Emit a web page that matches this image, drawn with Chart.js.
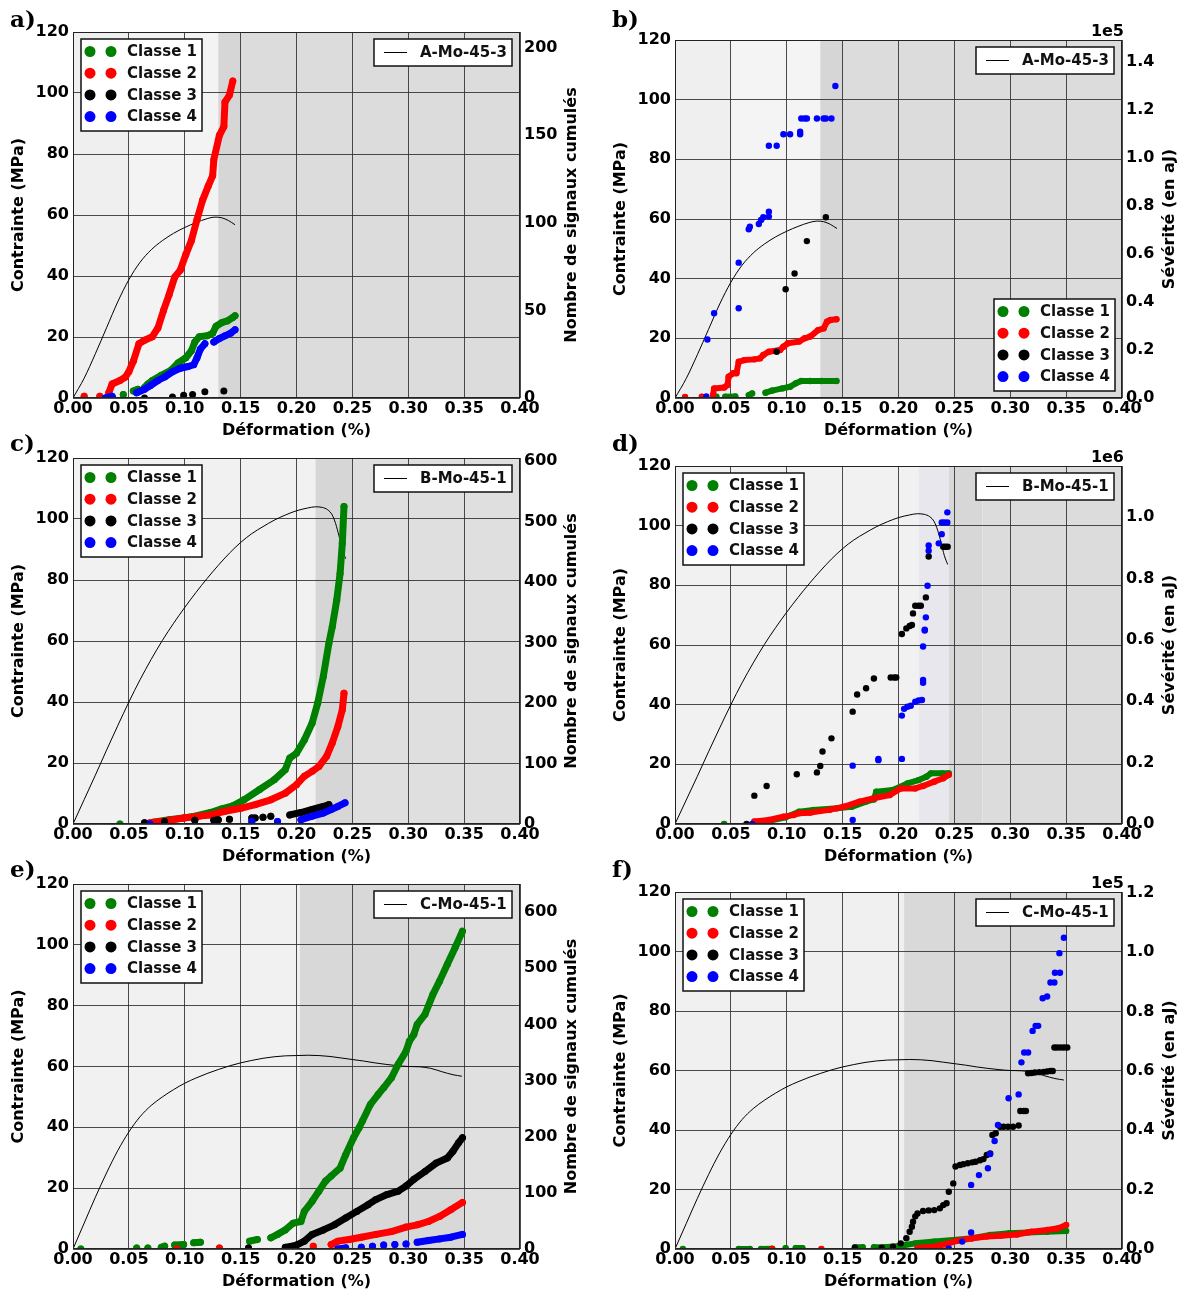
<!DOCTYPE html>
<html>
<head>
<meta charset="utf-8">
<script src="https://cdn.jsdelivr.net/npm/chart.js@4.4.1/dist/chart.umd.min.js"></script>
<style>
  html, body { margin: 0; padding: 0; background: #fff; width: 1189px; height: 1289px; overflow: hidden; position: relative; }
  canvas { position: absolute; }
</style>
</head>
<body>
<canvas id="pa"></canvas>
<canvas id="pb"></canvas>
<canvas id="pc"></canvas>
<canvas id="pd"></canvas>
<canvas id="pe"></canvas>
<canvas id="pf"></canvas>
<script>
// ---- tick labels ----
const strainTicks = [0, 0.05, 0.1, 0.15, 0.2, 0.25, 0.3, 0.35, 0.4];
const stressTicks = [0, 20, 40, 60, 80, 100, 120];
const countTicksA = [0, 50, 100, 150, 200];
const sevTicksB = [0, 20000, 40000, 60000, 80000, 100000, 120000, 140000];
const countTicksC = [0, 100, 200, 300, 400, 500, 600];
const sevTicksD = [0, 200000, 400000, 600000, 800000, 1000000];
const countTicksE = [0, 100, 200, 300, 400, 500, 600];
const sevTicksF = [0, 20000, 40000, 60000, 80000, 100000, 120000];

const classNames = ["Classe 1", "Classe 2", "Classe 3", "Classe 4"];

// ---- stress-strain curves [strain %, MPa] ----
const curveA = [[0,0],[0.01,6.5],[0.02,14.5],[0.03,23],[0.04,31.5],[0.05,38.8],[0.06,44.5],[0.07,48.6],[0.08,51.6],[0.09,54],[0.10,55.9],[0.11,57.5],[0.12,58.8],[0.127,59.3],[0.133,59.1],[0.139,58.2],[0.145,56.8]];
const curveB = [[0,0],[0.01,8],[0.02,16],[0.03,24.2],[0.04,32.2],[0.05,40],[0.06,47.3],[0.07,54],[0.08,60.2],[0.09,65.8],[0.10,71],[0.11,75.9],[0.12,80.5],[0.13,84.8],[0.14,88.8],[0.15,92.3],[0.16,95.2],[0.17,97.5],[0.18,99.6],[0.19,101.3],[0.20,102.7],[0.21,103.6],[0.217,104],[0.223,103.8],[0.228,103],[0.232,101.3],[0.235,98.5],[0.238,94.5],[0.241,90],[0.244,87]];
const curveC = [[0,0],[0.01,8.5],[0.02,17],[0.03,25],[0.04,32.3],[0.05,38.5],[0.06,43.5],[0.07,47.2],[0.08,50],[0.09,52.4],[0.10,54.5],[0.11,56.2],[0.12,57.7],[0.13,59],[0.14,60.2],[0.15,61.2],[0.16,62],[0.17,62.7],[0.18,63.2],[0.19,63.5],[0.20,63.6],[0.21,63.7],[0.22,63.6],[0.23,63.3],[0.24,62.8],[0.25,62.3],[0.26,61.8],[0.27,61.2],[0.28,60.7],[0.29,60.3],[0.30,60],[0.31,59.9],[0.32,59.4],[0.33,58.3],[0.34,57.3],[0.348,56.8]];

// ---- a) cumulated signals, A-Mo-45-3 ----
const a_c1 = [[0.035,0.5],null,[0.045,2],null,[0.054,4],[0.058,5],null,[0.064,6],[0.067,8],[0.071,10],[0.079,13],[0.088,16],[0.094,20],[0.101,23],[0.106,27],[0.109,32],[0.113,35],[0.120,35.5],[0.125,37],[0.128,41],[0.133,43],[0.138,44],[0.143,46],[0.145,47]];
const a_c2 = [[0.010,1],null,[0.024,1],null,[0.032,3],[0.035,8],[0.042,10],[0.047,12],[0.050,15],[0.054,21],[0.059,31],[0.064,33],[0.071,35],[0.076,40],[0.081,50],[0.086,59],[0.091,69],[0.096,73],[0.101,82],[0.106,90],[0.111,102],[0.116,113],[0.121,121],[0.125,127],[0.126,136],[0.131,150],[0.135,155],[0.136,169],[0.140,173],[0.143,181]];
const a_c3 = [[0.064,0],[0.089,0.5],[0.099,1.5],[0.107,2],[0.118,3.5],[0.135,4]];
const a_c4 = [[0.029,0],[0.035,1],null,[0.057,3],[0.064,5],[0.069,7],[0.076,10],[0.082,12],[0.089,15],[0.096,17],[0.103,18],[0.108,19],[0.111,23],[0.114,28],[0.118,31],null,[0.126,32],[0.131,34],[0.136,35.5],[0.141,37],[0.145,39]];

// ---- b) severity (aJ), A-Mo-45-3 ----
const b_c1 = [[0.037,500],null,[0.045,500],[0.054,600],null,[0.066,1200],[0.069,1900],null,[0.081,2200],[0.087,3100],[0.096,4000],[0.103,4700],[0.108,6100],[0.113,7100],[0.121,7100],[0.131,7100],[0.1445,7100]];
const b_c2 = [[0.009,400],null,[0.024,500],null,[0.034,1200],[0.035,4000],[0.044,4400],[0.047,5400],[0.048,8900],[0.052,10300],[0.055,10300],[0.057,15100],[0.062,15800],[0.071,16100],[0.076,16500],[0.079,17900],[0.084,19300],[0.094,20000],[0.097,21400],[0.101,22800],[0.111,23500],[0.116,24900],[0.121,25600],[0.128,28300],[0.133,29000],[0.136,31800],[0.139,32500],[0.1445,32800]];
const b_c3 = [[0.091,19300],[0.099,45300],[0.107,51900],[0.118,65400],[0.135,75300]];
const b_c4 = [[0.028,600],[0.029,24400],[0.035,35300],[0.057,37400],[0.057,56400],[0.066,70300],[0.067,71400],[0.075,72500],[0.077,74200],[0.079,75300],[0.084,75600],[0.084,77600],[0.084,105100],[0.091,105100],[0.097,109900],[0.103,109900],[0.112,109900],[0.112,111000],[0.113,116500],[0.116,116500],[0.118,116500],[0.127,116500],[0.133,116500],[0.135,116500],[0.140,116500],[0.1435,130000]];

// ---- c) cumulated signals, B-Mo-45-1 ----
const c_c1 = [[0.042,0],null,[0.072,3],[0.086,7],[0.099,10],[0.109,13],[0.123,19],[0.133,25],[0.143,30],[0.153,40],[0.167,57],[0.180,73],[0.190,90],[0.194,109],[0.200,117],[0.207,139],[0.214,167],[0.219,200],[0.224,244],[0.229,299],[0.232,326],[0.236,370],[0.239,414],[0.241,464],[0.2425,525]];
const c_c2 = [[0.069,2],[0.086,6],[0.099,10],[0.113,13],[0.123,15],[0.136,21],[0.150,26],[0.163,32],[0.177,40],[0.190,51],[0.200,65],[0.207,79],[0.214,87],[0.220,95],[0.227,112],[0.232,134],[0.237,161],[0.241,189],[0.2425,216]];
const c_c3 = [[0.064,2],null,[0.082,4],null,[0.109,6],null,[0.126,6],[0.130,7],null,[0.140,8],null,[0.160,10],[0.163,10],null,[0.170,11],null,[0.177,13],null,[0.194,15],[0.204,19],[0.214,24],[0.224,29],[0.229,32]];
const c_c4 = [[0.069,0],null,[0.160,4],null,[0.183,4],null,[0.204,7],[0.214,13],[0.224,18],[0.231,24],[0.237,29],[0.2434,35]];

// ---- d) severity (aJ), B-Mo-45-1 ----
const d_c1 = [[0.044,0],null,[0.074,2000],[0.099,22000],[0.111,40000],[0.124,46000],[0.145,51000],[0.158,56000],[0.171,73000],[0.178,80000],[0.180,105000],[0.195,111000],[0.208,132000],[0.218,143000],[0.225,154000],[0.229,165000],[0.239,165000],[0.245,165000]];
const d_c2 = [[0.071,8000],[0.084,13000],[0.097,24000],[0.106,29000],[0.111,35000],[0.121,37000],[0.138,46000],[0.151,56000],[0.165,73000],[0.178,84000],[0.192,94000],[0.202,116000],[0.215,116000],[0.222,124000],[0.232,138000],[0.240,149000],[0.245,160000]];
const d_c3 = [[0.064,0],[0.071,92300],[0.082,124000],[0.109,162000],[0.127,168000],[0.130,189000],[0.132,236000],[0.140,279000],[0.159,366000],[0.163,422000],[0.171,442000],[0.178,474000],[0.193,477000],[0.196,477000],[0.198,477000],[0.203,619000],[0.207,637000],[0.210,645000],[0.212,648000],[0.213,686000],[0.215,711000],[0.218,711000],[0.220,711000],[0.2245,738000],[0.227,871000],[0.240,903000],[0.242,903000],[0.244,903000]];
const d_c4 = [[0.069,0],[0.159,13000],[0.159,190000],[0.182,208000],[0.182,212000],[0.203,212000],[0.203,353000],[0.205,375000],[0.208,382000],[0.211,385000],[0.215,398000],[0.218,402000],[0.221,404000],[0.222,460000],[0.222,469000],[0.222,578000],[0.2235,630000],[0.2235,633000],[0.2245,673000],[0.226,776000],[0.227,890000],[0.227,907000],[0.236,914000],[0.2387,944000],[0.2387,982000],[0.241,982000],[0.2437,982000],[0.2437,1015000]];

// ---- e) cumulated signals, C-Mo-45-1 ----
const e_c1 = [[0.007,0],null,[0.057,2],null,[0.067,2],null,[0.079,3],[0.082,5],null,[0.091,7],[0.099,8],null,[0.108,11],[0.114,12],null,[0.158,14],[0.165,17],null,[0.177,20],[0.183,26],[0.190,34],[0.197,46],[0.204,49],[0.207,67],[0.214,85],[0.220,103],[0.226,121],[0.231,130],[0.239,144],[0.244,168],[0.251,198],[0.256,216],[0.259,228],[0.266,257],[0.273,275],[0.278,287],[0.285,305],[0.291,329],[0.298,352],[0.301,370],[0.305,382],[0.308,400],[0.315,418],[0.322,453],[0.328,477],[0.335,507],[0.342,537],[0.3485,566]];
const e_c2 = [[0.093,0],null,[0.131,2],null,[0.215,5],null,[0.231,8],[0.237,14],[0.247,17],[0.258,21],[0.271,26],[0.285,31],[0.298,39],[0.308,43],[0.318,49],[0.328,58],[0.338,70],[0.3485,83]];
const e_c3 = [[0.157,2],null,[0.190,3],[0.200,7],[0.207,14],[0.214,26],[0.224,34],[0.234,43],[0.244,55],[0.254,67],[0.264,79],[0.271,88],[0.281,97],[0.291,103],[0.298,112],[0.305,124],[0.315,138],[0.325,153],[0.335,162],[0.340,174],[0.345,189],[0.3485,198]];
const e_c4 = [[0.237,0],[0.244,2],null,[0.258,3],null,[0.268,5],null,[0.278,7],null,[0.288,8],null,[0.298,9],null,[0.308,12],[0.318,15],[0.328,18],[0.338,21],[0.3485,26]];

// ---- f) severity (aJ), C-Mo-45-1 ----
const f_c1 = [[0.007,0],null,[0.057,0],[0.067,0],null,[0.077,0],[0.087,100],null,[0.099,300],null,[0.108,300],[0.114,300],null,[0.161,600],[0.168,600],null,[0.178,600],[0.188,600],[0.202,1100],[0.215,1900],[0.232,2500],[0.249,3000],[0.266,3600],[0.282,4700],[0.299,5300],[0.316,5600],[0.333,5800],[0.350,6100]];
const f_c2 = [[0.087,0],null,[0.131,0],null,[0.217,300],[0.232,800],[0.242,1600],[0.252,2700],[0.266,3600],[0.279,4200],[0.292,4500],[0.306,4900],[0.319,5800],[0.333,6400],[0.343,7000],[0.350,8100]];
const f_c3 = [[0.161,450],[0.185,450],[0.195,800],[0.202,1900],[0.207,3600],[0.210,5800],[0.212,7500],[0.213,9200],[0.215,11000],[0.217,12000],[0.222,12800],[0.227,13000],[0.232,13100],[0.237,13700],[0.240,14800],[0.243,15400],[0.245,19300],[0.249,22100],[0.251,27800],[0.255,28300],[0.258,28600],[0.262,28900],[0.266,29200],[0.269,29400],[0.273,29900],[0.276,30300],[0.279,31700],[0.282,32200],[0.284,38400],[0.287,39000],[0.291,41200],[0.294,41200],[0.298,41200],[0.3025,41200],[0.3075,41600],[0.309,46500],[0.312,46500],[0.314,46500],[0.316,59200],[0.319,59300],[0.322,59500],[0.326,59600],[0.330,59700],[0.333,59800],[0.336,60000],[0.338,60000],[0.3395,67900],[0.342,67900],[0.345,67900],[0.348,67900],[0.351,67900]];
const f_c4 = [[0.245,200],[0.257,2500],[0.265,5600],[0.265,21600],[0.272,24900],[0.280,27200],[0.282,32000],[0.286,36400],[0.289,41800],[0.2985,50800],[0.3075,52100],[0.310,62900],[0.3125,66200],[0.316,66200],[0.320,73500],[0.3227,75200],[0.325,75200],[0.329,84500],[0.333,85100],[0.336,89800],[0.3395,89800],[0.340,93100],[0.3445,93100],[0.344,99700],[0.348,104900]];

// ---- drawing ----
Chart.defaults.font.family = "'DejaVu Sans', sans-serif";
Chart.defaults.font.size = 16;
Chart.defaults.font.weight = "bold";
Chart.defaults.color = "#000";

const classColors = ["#008000", "#ff0000", "#000000", "#0000ff"];
const gridColor = "rgba(45,45,45,0.85)";
const fontMain = "bold 16px 'DejaVu Sans'";
const fontLegend = "bold 15px 'DejaVu Sans'";

function pts(arr) {
  let last = 0;
  return arr.map((p) => {
    if (p) { last = p[0]; return { x: p[0], y: p[1] }; }
    return { x: last, y: null };
  });
}

function rotText(ctx, text, x, y) {
  ctx.save();
  ctx.translate(x, y);
  ctx.rotate(-Math.PI / 2);
  ctx.fillText(text, 0, 0);
  ctx.restore();
}

const panelDecor = {
  id: "panelDecor",
  beforeDraw(chart, args, o) {
    const { ctx, chartArea: a } = chart;
    const x = chart.scales.x;
    ctx.save();
    o.bands.forEach((b) => {
      const x0 = x.getPixelForValue(b[0]);
      const x1 = x.getPixelForValue(b[1]);
      ctx.fillStyle = b[2];
      ctx.fillRect(x0, a.top, x1 - x0, a.bottom - a.top);
    });
    ctx.restore();
  },
  afterDraw(chart, args, o) {
    const { ctx, chartArea: a } = chart;
    ctx.save();
    // frame
    ctx.strokeStyle = "#222";
    ctx.lineWidth = 1;
    ctx.strokeRect(a.left + 0.5, a.top + 0.5, a.right - a.left - 1, a.bottom - a.top - 1);

    // panel letter
    ctx.fillStyle = "#000";
    ctx.font = "bold 23px 'DejaVu Serif'";
    ctx.textAlign = "left";
    ctx.textBaseline = "alphabetic";
    ctx.fillText(o.letter, a.left - 63, a.top + o.letterDy);

    // axis titles
    ctx.font = fontMain;
    ctx.textAlign = "center";
    ctx.textBaseline = "middle";
    ctx.fillText("Déformation (%)", (a.left + a.right) / 2, a.bottom + 33);
    const cy = (a.top + a.bottom) / 2;
    rotText(ctx, "Contrainte (MPa)", a.left - 54, cy);
    rotText(ctx, o.rightTitle, a.right + o.rightDx, cy);
    if (o.exp) {
      ctx.textAlign = "right";
      ctx.fillText(o.exp, a.right + 2, a.top - 8);
    }

    // class legend
    const bx = o.classLegend === "br" ? a.right - 128 : a.left + 8;
    const by = o.classLegend === "br" ? a.bottom - 99 : a.top + 7;
    ctx.fillStyle = "#fff";
    ctx.fillRect(bx, by, 121, 92);
    ctx.strokeStyle = "#111";
    ctx.lineWidth = 1.5;
    ctx.strokeRect(bx, by, 121, 92);
    ctx.font = fontLegend;
    ctx.textAlign = "left";
    classNames.forEach((n, i) => {
      const ry = by + 12.5 + 21.7 * i;
      ctx.fillStyle = classColors[i];
      [9, 30].forEach((dx) => {
        ctx.beginPath();
        ctx.arc(bx + dx, ry, 5.5, 0, Math.PI * 2);
        ctx.fill();
      });
      ctx.fillStyle = "#111";
      ctx.fillText(n, bx + 46, ry + 1);
    });

    // specimen legend
    const sx = a.right - 146, sy = a.top + 7;
    ctx.fillStyle = "#fff";
    ctx.fillRect(sx, sy, 138, 27);
    ctx.strokeRect(sx, sy, 138, 27);
    ctx.strokeStyle = "#000";
    ctx.lineWidth = 1;
    ctx.beginPath();
    ctx.moveTo(sx + 10, sy + 13.5);
    ctx.lineTo(sx + 33, sy + 13.5);
    ctx.stroke();
    ctx.fillStyle = "#111";
    ctx.fillText(o.specimen, sx + 46, sy + 14);
    ctx.restore();
  },
};

function classSet(arr, i, st) {
  return {
    data: pts(arr),
    yAxisID: "y2",
    order: 4 - i,
    showLine: st.line,
    borderColor: classColors[i],
    backgroundColor: classColors[i],
    borderWidth: st.line ? st.w : 0,
    pointRadius: st.r,
    pointBorderWidth: 0,
    pointHoverRadius: st.r,
    borderCapStyle: "round",
    borderJoinStyle: "round",
  };
}

function makeChart(id, geo, cfg) {
  const cv = document.getElementById(id);
  const W = 73 + geo.w + 67, H = 44 + geo.h + 50;
  cv.width = W;
  cv.height = H;
  cv.style.width = W + "px";
  cv.style.height = H + "px";
  cv.style.left = geo.l - 73 + "px";
  cv.style.top = geo.t - 44 + "px";

  const datasets = [
    {
      data: pts(cfg.curve),
      yAxisID: "y",
      order: 5,
      showLine: true,
      cubicInterpolationMode: "monotone",
      borderColor: "#000",
      borderWidth: 1,
      pointRadius: 0,
      pointHoverRadius: 0,
    },
  ];
  cfg.classes.forEach((arr, i) => datasets.push(classSet(arr, i, cfg.styles[i])));

  return new Chart(cv, {
    type: "scatter",
    data: { datasets },
    plugins: [panelDecor],
    options: {
      responsive: false,
      animation: false,
      devicePixelRatio: 1,
      events: [],
      layout: { padding: { top: 44, left: 0, right: 0, bottom: 0 } },
      plugins: {
        legend: { display: false },
        tooltip: { enabled: false },
        panelDecor: cfg.decor,
      },
      scales: {
        x: {
          type: "linear",
          min: 0,
          max: 0.4,
          afterFit: (s) => { s.height = 50; },
          afterBuildTicks: (s) => { s.ticks = strainTicks.map((v) => ({ value: v })); },
          grid: { color: gridColor, drawTicks: false },
          border: { display: false },
          ticks: { padding: 1, maxRotation: 0, autoSkip: false, callback: (v) => v.toFixed(2) },
        },
        y: {
          type: "linear",
          position: "left",
          min: 0,
          max: 120,
          afterFit: (s) => { s.width = 73; },
          afterBuildTicks: (s) => { s.ticks = stressTicks.map((v) => ({ value: v })); },
          grid: { color: gridColor, drawTicks: false },
          border: { display: false },
          ticks: { padding: 4, callback: (v) => String(v) },
        },
        y2: {
          type: "linear",
          position: "right",
          min: 0,
          max: cfg.rmax,
          afterFit: (s) => { s.width = 67; },
          afterBuildTicks: (s) => { s.ticks = cfg.rticks.map((v) => ({ value: v })); },
          grid: { display: false, drawTicks: false },
          border: { display: false },
          ticks: { padding: 4, callback: cfg.rfmt },
        },
      },
    },
  });
}

const lineThick = { line: true, w: 7, r: 3.5 };
const dotsBig = { line: false, w: 0, r: 3.5 };
const lineMid = { line: true, w: 6, r: 3.2 };
const dotsMid = { line: false, w: 0, r: 3.2 };
const countFmt = (v) => String(v);

makeChart("pa", { l: 73, t: 32, w: 447, h: 366 }, {
  curve: curveA, classes: [a_c1, a_c2, a_c3, a_c4],
  styles: [lineThick, lineThick, dotsBig, lineThick],
  rmax: 209, rticks: countTicksA, rfmt: countFmt,
  decor: { letter: "a)", letterDy: -5, rightTitle: "Nombre de signaux cumulés", rightDx: 52, specimen: "A-Mo-45-3", classLegend: "tl",
    bands: [[0, 0.05, "#efefef"], [0.05, 0.13, "#f3f3f3"], [0.13, 0.15, "#d6d6d6"], [0.15, 0.4, "#dcdcdc"]] },
});

makeChart("pb", { l: 675, t: 40, w: 447, h: 358 }, {
  curve: curveA, classes: [b_c1, b_c2, b_c3, b_c4],
  styles: [lineMid, lineMid, dotsMid, dotsMid],
  rmax: 149200, rticks: sevTicksB, rfmt: (v) => (v / 1e5).toFixed(1),
  decor: { letter: "b)", letterDy: -13, rightTitle: "Sévérité (en aJ)", rightDx: 48, specimen: "A-Mo-45-3", classLegend: "br", exp: "1e5",
    bands: [[0, 0.05, "#efefef"], [0.05, 0.13, "#f4f4f4"], [0.13, 0.15, "#d6d6d6"], [0.15, 0.4, "#dcdcdc"]] },
});

makeChart("pc", { l: 73, t: 458, w: 447, h: 366 }, {
  curve: curveB, classes: [c_c1, c_c2, c_c3, c_c4],
  styles: [lineThick, lineThick, lineThick, lineThick],
  rmax: 605, rticks: countTicksC, rfmt: countFmt,
  decor: { letter: "c)", letterDy: -7, rightTitle: "Nombre de signaux cumulés", rightDx: 52, specimen: "B-Mo-45-1", classLegend: "tl",
    bands: [[0, 0.217, "#f1f1f1"], [0.217, 0.25, "#d6d6d6"], [0.25, 0.4, "#dfdfdf"]] },
});

makeChart("pd", { l: 675, t: 466, w: 447, h: 358 }, {
  curve: curveB, classes: [d_c1, d_c2, d_c3, d_c4],
  styles: [lineMid, lineMid, dotsMid, dotsMid],
  rmax: 1166000, rticks: sevTicksD, rfmt: (v) => (v / 1e6).toFixed(1),
  decor: { letter: "d)", letterDy: -15, rightTitle: "Sévérité (en aJ)", rightDx: 48, specimen: "B-Mo-45-1", classLegend: "tl", exp: "1e6",
    bands: [[0, 0.218, "#f1f1f1"], [0.218, 0.245, "#e7e7ed"], [0.245, 0.275, "#d7d7d7"], [0.275, 0.4, "#dcdcdc"]] },
});

makeChart("pe", { l: 73, t: 884, w: 447, h: 365 }, {
  curve: curveC, classes: [e_c1, e_c2, e_c3, e_c4],
  styles: [lineThick, lineThick, lineThick, lineThick],
  rmax: 650, rticks: countTicksE, rfmt: countFmt,
  decor: { letter: "e)", letterDy: -7, rightTitle: "Nombre de signaux cumulés", rightDx: 52, specimen: "C-Mo-45-1", classLegend: "tl",
    bands: [[0, 0.203, "#f1f1f1"], [0.203, 0.35, "#d8d8d8"], [0.35, 0.4, "#e0e0e0"]] },
});

makeChart("pf", { l: 675, t: 892, w: 447, h: 357 }, {
  curve: curveC, classes: [f_c1, f_c2, f_c3, f_c4],
  styles: [lineMid, lineMid, dotsMid, dotsMid],
  rmax: 120300, rticks: sevTicksF, rfmt: (v) => (v / 1e5).toFixed(1),
  decor: { letter: "f)", letterDy: -15, rightTitle: "Sévérité (en aJ)", rightDx: 48, specimen: "C-Mo-45-1", classLegend: "tl", exp: "1e5",
    bands: [[0, 0.205, "#f0f0f0"], [0.205, 0.35, "#d9d9d9"], [0.35, 0.4, "#e0e0e0"]] },
});
</script>
</body>
</html>
